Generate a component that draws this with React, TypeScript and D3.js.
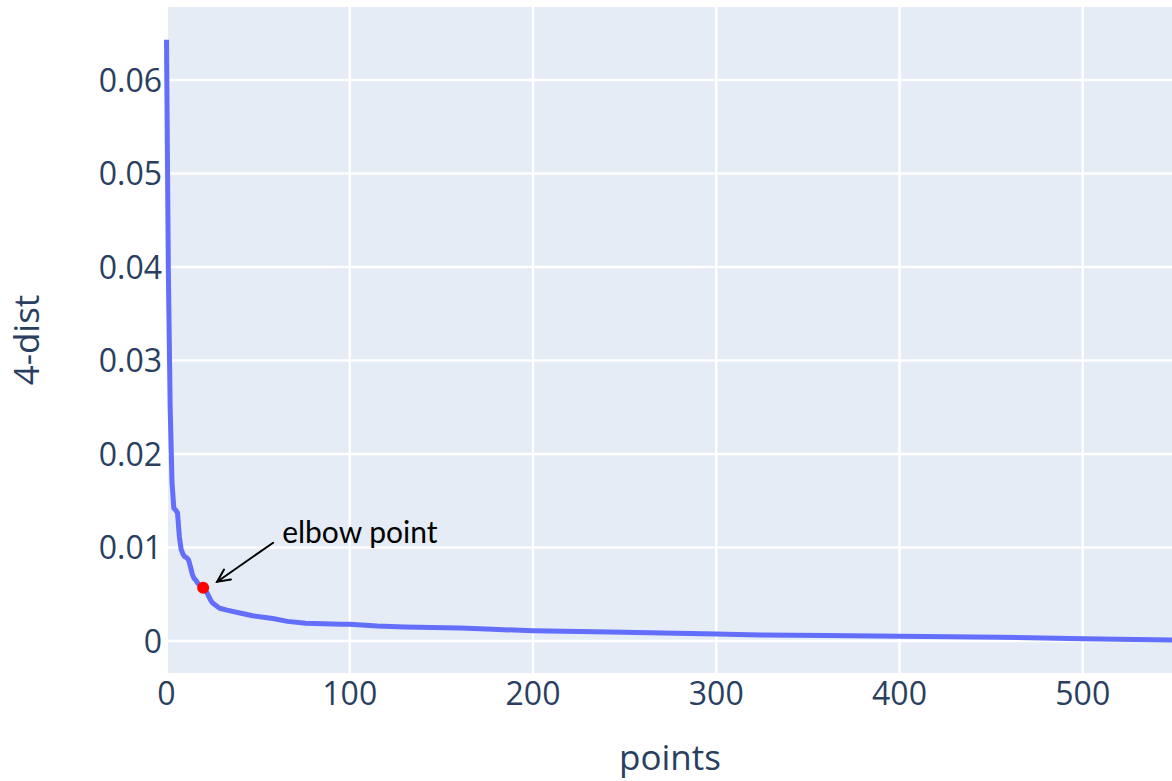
import React from "react";
import * as d3 from "d3";

// k-distance values (sorted, descending) at these point indices
const pointIdx = [0, 1, 2, 3, 4, 5, 6, 7, 8, 9, 10, 11, 12, 13, 14, 15, 16, 17, 18, 19, 20, 22, 24, 25, 27, 29, 33, 40, 47, 58, 66, 76, 95, 100, 115, 130, 160, 171, 200, 242, 300, 324, 360, 400, 455, 500, 549];
const dist4 = [0.0643, 0.0397, 0.025, 0.017, 0.0142, 0.014, 0.0137, 0.0112, 0.0098, 0.0093, 0.009, 0.0089, 0.0087, 0.008, 0.0072, 0.0067, 0.0065, 0.0062, 0.006, 0.0058, 0.0057, 0.0052, 0.0044, 0.0041, 0.0038, 0.0035, 0.0033, 0.003, 0.0027, 0.0024, 0.0021, 0.0019, 0.0018, 0.0018, 0.0016, 0.0015, 0.0014, 0.0013, 0.0011, 0.00096, 0.00075, 0.00064, 0.00058, 0.0005, 0.0004, 0.00025, 0.0001];

const xTicks = [0, 100, 200, 300, 400, 500];
const yTicks = [0, 0.01, 0.02, 0.03, 0.04, 0.05, 0.06];

const elbowIdx = 20;
const elbowDist = 0.0057;
const annotationText = "elbow point";

const W = 1172, H = 781;
const plot = { left: 168, right: 1172, top: 7, bottom: 673 };

export default function App() {
  const x = d3.scaleLinear().domain([0, 550]).range([166.5, 166.5 + 550 * 1.8325]);
  const y = d3.scaleLinear().domain([0, 0.06]).range([641, 80]);

  const line = d3.line<number>()
    .x((d, i) => x(pointIdx[i]))
    .y(d => y(d));

  const fmt = (v: number) => (v === 0 ? "0" : d3.format(".2f")(v));

  const ex = x(elbowIdx), ey = y(elbowDist);
  const tip = [ex + 14, ey - 6];
  const tail = [ex + 70, ey - 45];
  const ang = Math.atan2(tip[1] - tail[1], tip[0] - tail[0]);
  const head = 14, spread = 0.45;
  const h1 = [tip[0] - head * Math.cos(ang - spread), tip[1] - head * Math.sin(ang - spread)];
  const h2 = [tip[0] - head * Math.cos(ang + spread), tip[1] - head * Math.sin(ang + spread)];

  const font = "'Open Sans', Verdana, Arial, sans-serif";

  return (
    <svg width={W} height={H} style={{ position: "absolute", left: 0, top: 0, background: "#fff" }}>
      <rect x={plot.left} y={plot.top} width={plot.right - plot.left} height={plot.bottom - plot.top} fill="#E5ECF6" />
      <g stroke="#fff" strokeWidth={2.5}>
        {yTicks.map(t => (
          <line key={t} x1={plot.left} x2={plot.right} y1={y(t)} y2={y(t)} />
        ))}
        {xTicks.filter(t => t > 0).map(t => (
          <line key={t} x1={x(t)} x2={x(t)} y1={plot.top} y2={plot.bottom} />
        ))}
      </g>
      <g fill="#2a3f5f" fontFamily={font} fontSize={32}>
        {yTicks.map(t => (
          <text key={t} x={162} y={y(t)} dy="0.36em" textAnchor="end">{fmt(t)}</text>
        ))}
        {xTicks.map(t => (
          <text key={t} x={x(t)} y={705} textAnchor="middle">{t}</text>
        ))}
      </g>
      <path d={line(dist4) || ""} fill="none" stroke="#636efa" strokeWidth={5} strokeLinejoin="round" />
      <circle cx={ex} cy={ey} r={6} fill="red" />
      <g stroke="#000" strokeWidth={2} fill="none" strokeLinecap="round">
        <line x1={tail[0]} y1={tail[1]} x2={tip[0]} y2={tip[1]} />
        <polyline points={`${h1[0]},${h1[1]} ${tip[0]},${tip[1]} ${h2[0]},${h2[1]}`} />
      </g>
      <text x={tail[0] + 9} y={543} fontFamily="Lato, 'Open Sans', sans-serif" fontSize={30} fill="#000">{annotationText}</text>
      <text x={(plot.left + plot.right) / 2} y={770} textAnchor="middle" fill="#2a3f5f" fontFamily={font} fontSize={35}>points</text>
      <text transform={`translate(39, ${(plot.top + plot.bottom) / 2}) rotate(-90)`} textAnchor="middle" fill="#2a3f5f" fontFamily={font} fontSize={35}>4-dist</text>
    </svg>
  );
}
